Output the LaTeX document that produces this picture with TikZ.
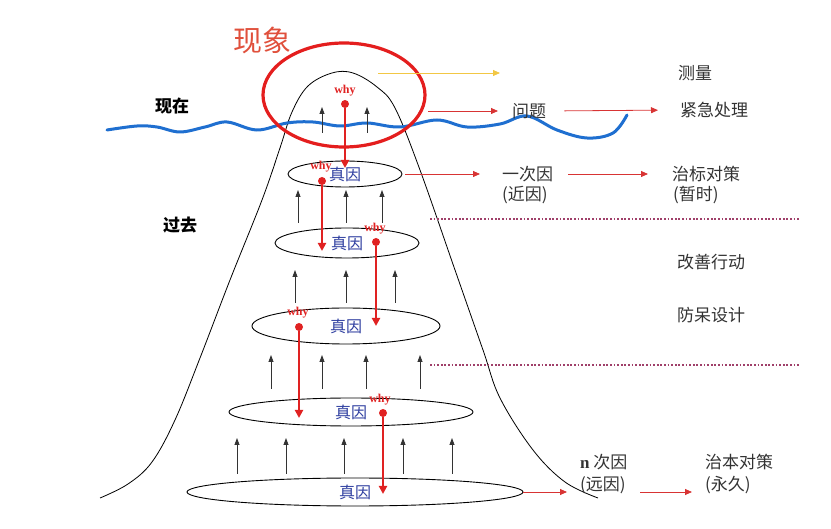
\documentclass[tikz,border=0pt]{standalone}
\usepackage{fontspec}
\setmainfont{Liberation Serif}
\newfontfamily\cjk{Noto Sans CJK SC}
\usetikzlibrary{arrows.meta,shapes.geometric}
\definecolor{ringred}{HTML}{E41E1E}
\definecolor{titlered}{HTML}{E0503C}
\definecolor{whyred}{HTML}{E02222}
\definecolor{arrred}{HTML}{D83434}
\definecolor{waveblue}{HTML}{1F6FD0}
\definecolor{causeblue}{HTML}{2F3FA0}
\definecolor{labelgray}{HTML}{333333}
\definecolor{dotpurple}{HTML}{A0406A}
\definecolor{measyellow}{HTML}{F2C744}

\begin{document}
\begin{tikzpicture}[x=1pt,y=-1pt,
  lvl/.style={draw,ellipse,line width=0.9pt,inner sep=0pt,text=causeblue,
    font=\cjk\fontsize{16}{16}\selectfont},
  lbl/.style={anchor=west,inner sep=0pt,text=labelgray,
    font=\cjk\fontsize{17}{17}\selectfont},
  redarr/.style={draw=arrred,line width=0.8pt,-{Triangle[length=7pt,width=6pt]}},
  yelarr/.style={draw=measyellow,line width=0.8pt,-{Triangle[length=7pt,width=6pt]}},
  whyarr/.style={draw=whyred,line width=2.6pt,-{Triangle[length=8pt,width=8pt]}},
  uparr/.style={draw=black!80,line width=0.8pt,-{Triangle[length=7pt,width=5pt]}},
  dot/.style={circle,fill=whyred,inner sep=0pt,minimum size=8pt},
  whytxt/.style={text=whyred,inner sep=0pt,font=\bfseries\fontsize{12}{12}\selectfont},
  dotln/.style={draw=dotpurple,line width=1.8pt,dash pattern=on 1.8pt off 1.8pt}]
\useasboundingbox (0,0) rectangle (831,529);

\draw[line width=0.8pt] plot[smooth,tension=0.6] coordinates {(100,498) (128,484)
  (152,462) (175,420) (200,358) (230,280) (262,200) (280,148) (292,112) (308,86)
  (332,73) (353,73) (377,87) (395,108) (420,170) (455,270) (483,350) (500,398)
  (533,450) (565,482) (598,498)};
\draw[waveblue,line width=3pt,line cap=round] plot[smooth,tension=0.6] coordinates {
  (107,130) (137,126) (157,127) (180,132) (205,127) (227,122) (257,130) (287,123)
  (313,122) (340,126) (367,123) (400,127) (437,120) (467,127) (500,124) (527,116)
  (557,130) (587,138) (613,133) (627,115)};

\node[font=\cjk\fontsize{29}{29}\selectfont,text=titlered] (xx) at (262,40) {现象};
\node[font=\cjk\bfseries\fontsize{17}{17}\selectfont] (xz) at (172,106) {现在};
\node[font=\cjk\bfseries\fontsize{17}{17}\selectfont] (gq) at (180,225) {过去};

\node[lvl,minimum width=114pt,minimum height=26pt] (L1) at (345,174) {真因};
\node[lvl,minimum width=144pt,minimum height=30pt] (L2) at (347,243) {真因};
\node[lvl,minimum width=188pt,minimum height=36pt] (L3) at (346,326) {真因};
\node[lvl,minimum width=244pt,minimum height=28pt] (L4) at (351,412) {真因};
\node[lvl,minimum width=336pt,minimum height=28pt] (L5) at (355,492) {真因};

\foreach \x in {322,367} \draw[uparr] (\x,133) -- (\x,107);
\foreach \x in {298,346,382} \draw[uparr] (\x,223) -- (\x,190);
\foreach \x in {295,346,395} \draw[uparr] (\x,303) -- (\x,270);
\foreach \x in {271,322,366,420} \draw[uparr] (\x,389) -- (\x,355);
\foreach \x in {237,286,344,403,452} \draw[uparr] (\x,474) -- (\x,438);

\node[dot] (d0) at (345,104) {};
\node[dot] (d1) at (322,181) {};
\node[dot] (d2) at (376,242) {};
\node[dot] (d3) at (299,327) {};
\node[dot] (d4) at (383,413) {};
\node[whytxt] (w0) at (345,91) {why};
\node[whytxt] (w1) at (321,167) {why};
\node[whytxt] (w2) at (375,229) {why};
\node[whytxt] (w3) at (298,313) {why};
\node[whytxt] (w4) at (380,400) {why};
\coordinate (t0) at (345,168);
\coordinate (t1) at (322,251);
\coordinate (t2) at (376,326);
\coordinate (t3) at (299,418);
\coordinate (t4) at (383,494);
\draw[whyarr] (d0) -- (t0);
\draw[whyarr] (d1) -- (t1);
\draw[whyarr] (d2) -- (t2);
\draw[whyarr] (d3) -- (t3);
\draw[whyarr] (d4) -- (t4);

\node[draw=ringred,line width=3.2pt,ellipse,minimum width=162pt,
  minimum height=104pt] (ring) at (344,95) {};

\node[lbl] (cl) at (678,73) {测量};
\node[lbl] (wt) at (512,111) {问题};
\node[lbl] (jj) at (680,110) {紧急处理};
\node[lbl] (yc) at (502,174) {一次因};
\node[lbl] (jy) at (502,195) {(近因)};
\node[lbl] (zb) at (672,174) {治标对策};
\node[lbl] (zs) at (673,195) {(暂时)};
\node[lbl] (gs) at (677,262) {改善行动};
\node[lbl] (fd) at (677,315) {防呆设计};
\node[lbl] (nc) at (580,462) {{\rmfamily\bfseries n} 次因};
\node[lbl] (yy) at (580,485) {(远因)};
\node[lbl] (zbdc) at (705,462) {治本对策};
\node[lbl] (yj) at (705,485) {(永久)};

\coordinate (ys) at (378,73);
\coordinate (ye) at (500,73);
\coordinate (ws) at (428,111);
\coordinate (c5) at (567,492);
\coordinate (a5) at (640,492);
\coordinate (b5) at (692,492);
\draw[yelarr] (ys) -- (ye);
\draw[redarr,shorten >=14pt] (ws) -- (wt.west);
\draw[redarr,shorten <=18pt,shorten >=22pt] (wt.east) -- (jj.west);
\draw[redarr,shorten <=3pt,shorten >=22pt] (L1.east) -- (yc.west);
\draw[redarr,shorten <=15pt,shorten >=24pt] (yc.east) -- (zb.west);
\draw[redarr] (L5.east) -- (c5);
\draw[redarr] (a5) -- (b5);

\coordinate (p1) at (430,219);
\coordinate (q1) at (800,219);
\coordinate (p2) at (430,365);
\coordinate (q2) at (800,365);
\draw[dotln] (p1) -- (q1);
\draw[dotln] (p2) -- (q2);
\end{tikzpicture}
\end{document}
